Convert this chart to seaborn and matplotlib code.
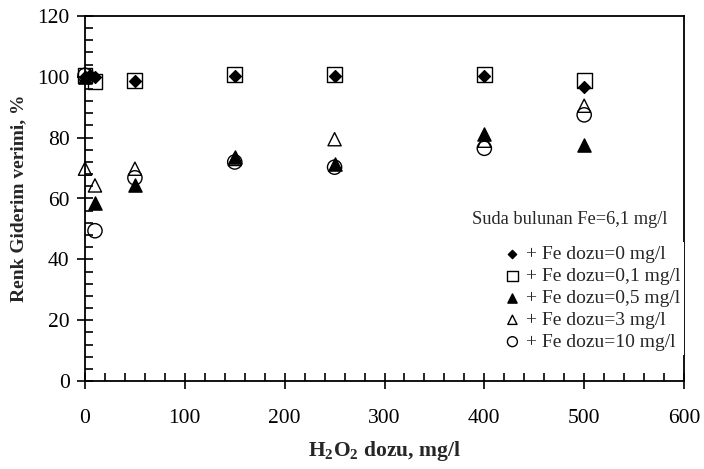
import matplotlib
matplotlib.use("Agg")
import matplotlib.pyplot as plt
import seaborn as sns
from matplotlib.ticker import MultipleLocator

# H2O2 doses (mg/l) and colour removal efficiencies (%) per added Fe dose
x_fe0 = [0, 5, 10, 50, 150, 250, 400, 500]
y_fe0 = [100, 100.5, 100, 98.7, 100.3, 100.3, 100.3, 96.8]

x_fe01 = [0, 10, 50, 150, 250, 400, 500]
y_fe01 = [100.5, 98.5, 98.7, 100.7, 100.7, 100.7, 98.8]

x_fe05 = [0, 10, 50, 150, 250, 400, 500]
y_fe05 = [100, 58.5, 64.5, 73.5, 71.5, 81.2, 77.5]

x_fe3 = [0, 10, 50, 150, 250, 400, 500]
y_fe3 = [69.8, 64.3, 69.8, 73, 79.5, 79, 90.5]

x_fe10 = [0, 10, 50, 150, 250, 400, 500]
y_fe10 = [100.5, 49.4, 66.8, 72, 70.3, 76.5, 87.5]

labels = ["+ Fe dozu=0 mg/l", "+ Fe dozu=0,1 mg/l", "+ Fe dozu=0,5 mg/l",
          "+ Fe dozu=3 mg/l", "+ Fe dozu=10 mg/l"]
note = "Suda bulunan Fe=6,1 mg/l"
x_ticks = [0, 100, 200, 300, 400, 500, 600]
y_ticks = [0, 20, 40, 60, 80, 100, 120]

sns.set_theme(style="white")
plt.rcParams["font.family"] = ["Liberation Serif", "DejaVu Serif"]
plt.rcParams["mathtext.fontset"] = "custom"
plt.rcParams["mathtext.rm"] = "Liberation Serif"
plt.rcParams["mathtext.bf"] = "Liberation Serif:bold"

fig = plt.figure(figsize=(7.04, 4.69), dpi=100)
ax = fig.add_axes([85 / 704, 88 / 469, 599 / 704, 365 / 469])

series = [
    (x_fe0, y_fe0, "D", 36, True),
    (x_fe01, y_fe01, "s", 115, False),
    (x_fe05, y_fe05, "^", 90, True),
    (x_fe3, y_fe3, "^", 90, False),
    (x_fe10, y_fe10, "o", 105, False),
]

for (xs, ys, mk, size, filled), lab in zip(series, labels):
    sns.scatterplot(x=xs, y=ys, marker=mk, s=size, color="black",
                    edgecolor="black", linewidth=1.0, label=lab, ax=ax,
                    legend=False, zorder=3, clip_on=False)
    if not filled:
        ax.collections[-1].set_facecolor("none")

ax.set_xlim(0, 600)
ax.set_ylim(0, 120)
ax.set_xticks(x_ticks)
ax.set_yticks(y_ticks)
ax.xaxis.set_minor_locator(MultipleLocator(20))
ax.yaxis.set_minor_locator(MultipleLocator(4))

for s in ax.spines.values():
    s.set_visible(True)
    s.set_color("black")
    s.set_linewidth(1.3)

ax.tick_params(which="major", direction="inout", length=12, width=1.2,
               colors="black", labelsize=15.5)
ax.tick_params(axis="x", which="major", pad=14)
ax.tick_params(axis="y", which="major", pad=5)
ax.tick_params(which="minor", direction="in", length=5.5, width=1.2,
               colors="black")
ax.tick_params(axis="both", which="both", bottom=True, left=True,
               top=False, right=False)

ax.set_xlabel(r"H$_\mathbf{2}$O$_\mathbf{2}$ dozu, mg/l", fontsize=15.5,
              fontweight="bold", labelpad=8)
ax.set_ylabel("Renk Giderim verimi, %", fontsize=14, fontweight="bold",
              labelpad=7)

fig.text(668 / 704, 1 - 219 / 469, note, ha="right", va="center",
         fontsize=13.2)

handles, labs = ax.get_legend_handles_labels()
leg = ax.legend(handles, labs, loc="upper right",
                bbox_to_anchor=(694 / 704, 1 - 232 / 469),
                bbox_transform=fig.transFigure, frameon=True,
                facecolor="white", edgecolor="none", framealpha=1,
                fancybox=False, fontsize=14, labelspacing=0.22,
                handletextpad=0.1, handlelength=1.2, borderpad=0.2,
                markerscale=0.7)
leg.set_zorder(10)

fig.savefig("out.png", dpi=100)
